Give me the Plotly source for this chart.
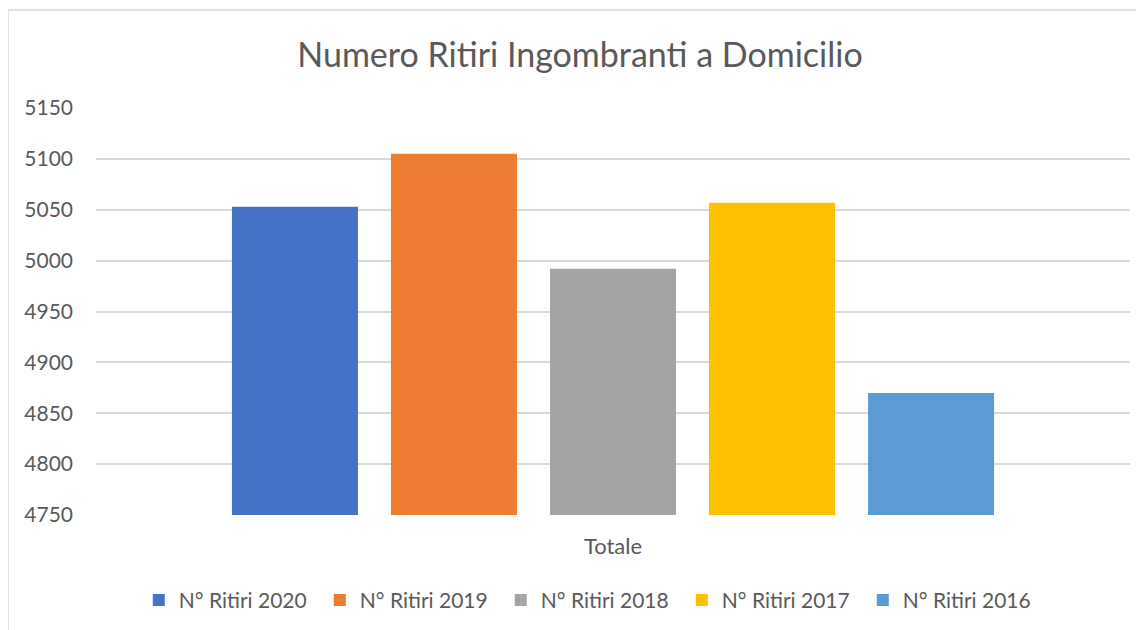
import plotly.graph_objects as go

# data
categoria = ["Totale"]
serie = ["N° Ritiri 2020", "N° Ritiri 2019", "N° Ritiri 2018", "N° Ritiri 2017", "N° Ritiri 2016"]
valori = [5053, 5105, 4992, 5057, 4870]
colori = ["#4472C4", "#ED7D31", "#A5A5A5", "#FFC000", "#5B9BD5"]
tick_vals = [4750, 4800, 4850, 4900, 4950, 5000, 5050, 5100, 5150]

FONT = "Lato, 'Open Sans', sans-serif"

fig = go.Figure()
for nome, val, col in zip(serie, valori, colori):
    fig.add_trace(go.Bar(
        x=categoria,
        y=[val],
        name=nome,
        marker=dict(color=col, line=dict(width=0)),
    ))

fig.update_layout(
    width=1144,
    height=630,
    autosize=False,
    margin=dict(l=88, r=22, t=100, b=123),
    paper_bgcolor="white",
    plot_bgcolor="white",
    barmode="group",
    bargap=0.231,
    bargroupgap=0.2075,
    title=dict(
        text="Numero Ritiri Ingombranti a Domicilio",
        x=0.5,
        xanchor="center",
        y=0.925,
        yanchor="middle",
        font=dict(family=FONT, size=34, color="#595959"),
    ),
    font=dict(family=FONT, color="#595959"),
    showlegend=True,
    legend=dict(
        orientation="h",
        x=0.479,
        xanchor="center",
        y=-0.21,
        yanchor="middle",
        font=dict(family=FONT, size=21, color="#595959"),
        traceorder="normal",
        itemwidth=30,
        entrywidth=136,
        entrywidthmode="pixels",
    ),
)

fig.update_xaxes(
    showgrid=False,
    showline=False,
    ticks="",
    tickfont=dict(family=FONT, size=22, color="#595959"),
    ticklabelstandoff=16,
)
fig.update_yaxes(
    range=[4750, 5150],
    tickvals=tick_vals,
    showgrid=True,
    gridcolor="#D9D9D9",
    gridwidth=1.5,
    zeroline=False,
    showline=False,
    ticks="",
    tickfont=dict(family=FONT, size=21, color="#595959"),
    ticklabelstandoff=22,
)

# chart area border like in the spreadsheet export
fig.add_shape(
    type="rect",
    xref="paper", yref="paper",
    x0=-0.0851, x1=1.05, y0=-0.35, y1=1.2408,
    line=dict(color="#D9D9D9", width=1.5),
    fillcolor="rgba(0,0,0,0)",
    layer="below",
)

fig.write_html("out.html")
